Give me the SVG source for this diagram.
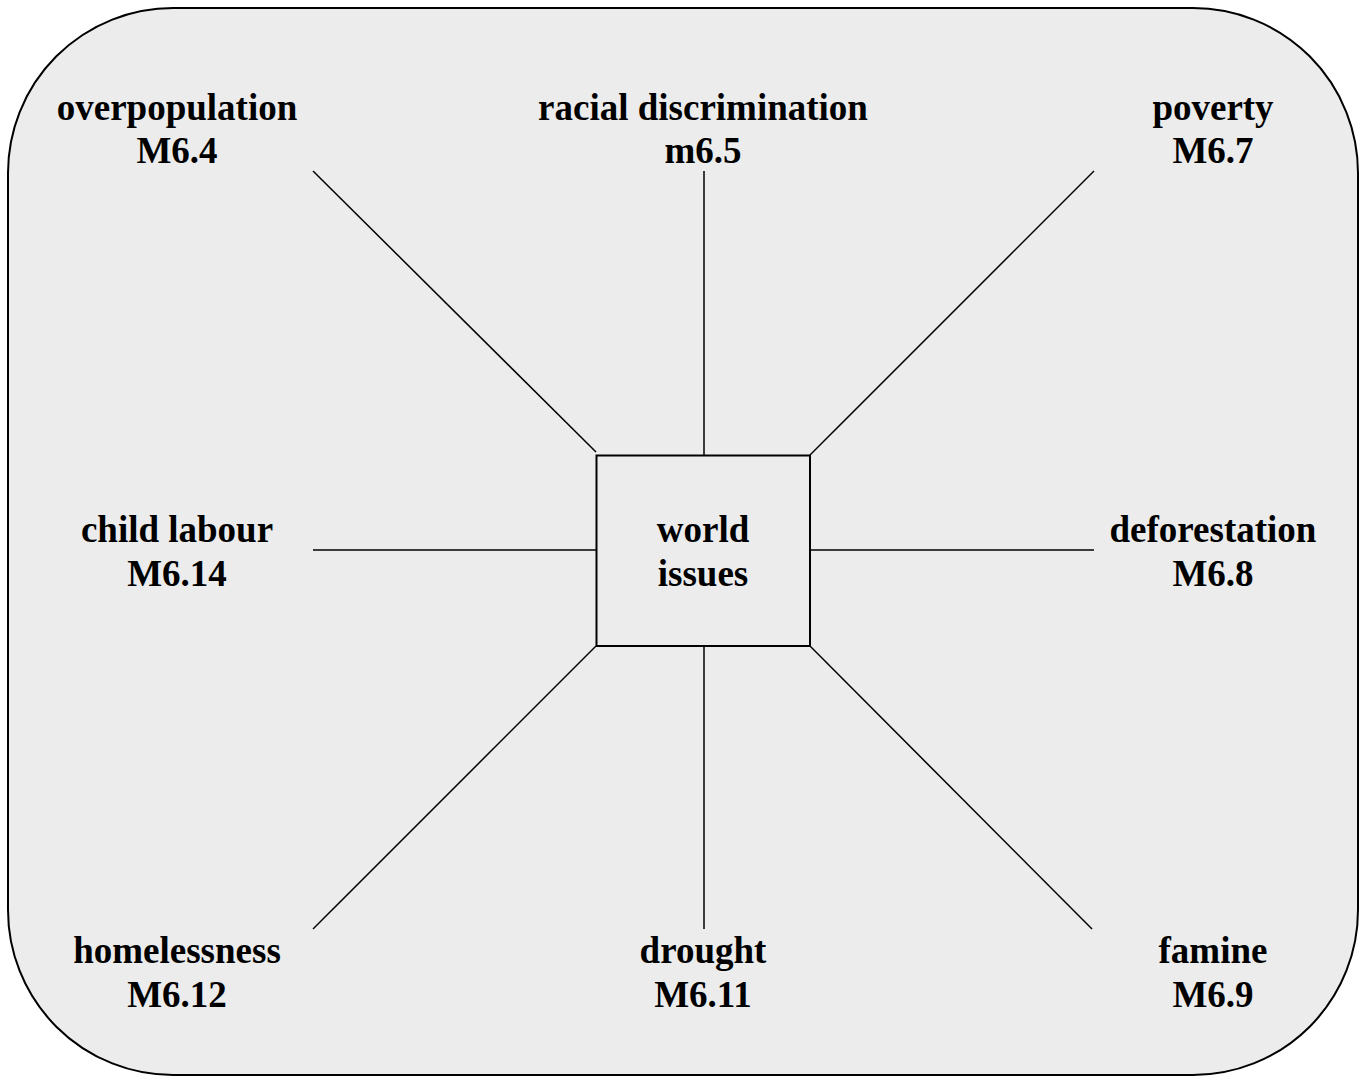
<svg xmlns="http://www.w3.org/2000/svg" width="1364" height="1077" viewBox="0 0 1364 1077">
<style>
.t{font-family:"Liberation Serif","Times New Roman",serif;font-weight:bold;font-size:37px;fill:#000;text-anchor:middle}
.c line{stroke:#000;stroke-width:1.5}
</style>
<rect x="0" y="0" width="1364" height="1077" fill="#fff"/>
<rect x="8" y="8" width="1350" height="1067" rx="165" ry="165" fill="#ececec" stroke="#000" stroke-width="2"/>
<g class="c" id="connectors">
<line x1="313" y1="171" x2="596" y2="452"/>
<line x1="704" y1="171" x2="704" y2="455"/>
<line x1="1094" y1="171" x2="810" y2="455"/>
<line x1="313" y1="550" x2="596" y2="550"/>
<line x1="810" y1="550" x2="1094" y2="550"/>
<line x1="313" y1="929" x2="596" y2="646"/>
<line x1="704" y1="646" x2="704" y2="929"/>
<line x1="810" y1="646" x2="1092" y2="929"/>
</g>
<g id="center"><rect x="596.5" y="455.5" width="213.5" height="190.5" fill="#ececec" stroke="#000" stroke-width="2"/>
<text class="t" x="703" y="542">world</text><text class="t" x="703" y="586">issues</text></g>
<g id="overpopulation"><text class="t" x="177" y="120">overpopulation</text><text class="t" x="177" y="163">M6.4</text></g>
<g id="racial"><text class="t" x="703" y="120">racial discrimination</text><text class="t" x="703" y="163">m6.5</text></g>
<g id="poverty"><text class="t" x="1213" y="120">poverty</text><text class="t" x="1213" y="163">M6.7</text></g>
<g id="childlabour"><text class="t" x="177" y="542">child labour</text><text class="t" x="177" y="586">M6.14</text></g>
<g id="deforestation"><text class="t" x="1213" y="542">deforestation</text><text class="t" x="1213" y="586">M6.8</text></g>
<g id="homelessness"><text class="t" x="177" y="963">homelessness</text><text class="t" x="177" y="1007">M6.12</text></g>
<g id="drought"><text class="t" x="703" y="963">drought</text><text class="t" x="703" y="1007">M6.11</text></g>
<g id="famine"><text class="t" x="1213" y="963">famine</text><text class="t" x="1213" y="1007">M6.9</text></g>
</svg>
